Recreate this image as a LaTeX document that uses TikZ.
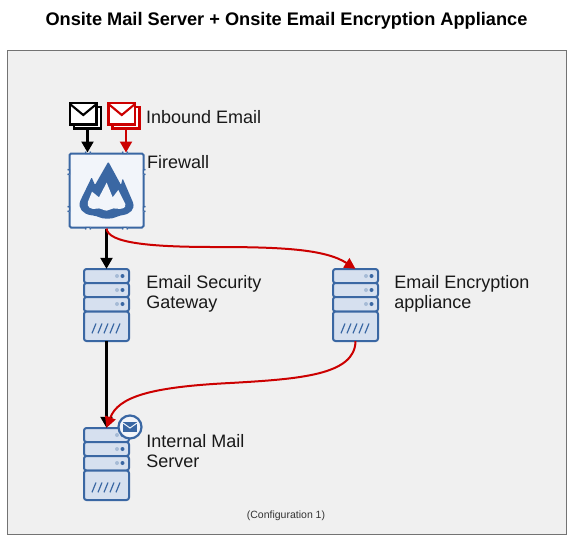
\documentclass[tikz,border=0pt]{standalone}
\usepackage{fontspec}
\setmainfont{Liberation Sans}
\usetikzlibrary{positioning,arrows.meta,calc}
\definecolor{iconblue}{HTML}{3A67A3}
\definecolor{iconfill}{HTML}{D6E0EF}
\definecolor{fwfill}{HTML}{F2F5FA}
\definecolor{framefill}{HTML}{F0F0F0}
\definecolor{mailred}{HTML}{CC0000}
\tikzset{
  frame/.style  ={draw=black!55, fill=framefill, line width=.8pt},
  lbl/.style    ={align=left, inner sep=0pt, font=\fontsize{18}{20}\selectfont, text=black!90},
  srv/.style    ={minimum width=45pt, minimum height=72pt, inner sep=0pt},
  fw/.style     ={draw=iconblue, fill=fwfill, line width=2pt, rounded corners=1.5pt,
                  minimum size=74pt, inner sep=0pt},
  env/.style    ={minimum width=31pt, minimum height=26pt, inner sep=0pt},
  fl/.style     ={-{Triangle[length=11pt,width=12pt]}, line width=2.2pt, black},
  flred/.style  ={fl, mailred},
  curve/.style  ={-{Triangle[length=11pt,width=11pt]}, line width=2pt, mailred},
  pics/serverstack/.style={code={
    \foreach \ytop/\yh in {-36/14,-22/14,-8/14.5,6.5/29.5}
      \draw[draw=iconblue, fill=iconfill, line width=2pt, rounded corners=2.5pt]
        (-22.5,\ytop) rectangle ++(45,\yh);
    \foreach \yrow in {-29,-15,-1}{
      \fill[iconblue!45] (10.5,\yrow) circle (2pt);
      \fill[iconblue] (16,\yrow) circle (2pt);
    }
    \foreach \xs in {-14.5,-8.5,-2.5,3.5,9.5}
      \draw[iconblue, line width=1.2pt] (\xs,28.3) -- ++(4,-9.8);
  }},
  pics/mailicon/.style={code={
    \draw[draw=#1, fill=white, line width=2.1pt] (4,4) rectangle (31,25.5);
    \draw[draw=#1, fill=white, line width=2.1pt] (0,0) rectangle (26.5,21.5);
    \draw[draw=#1, line width=2.1pt] (0,1) -- (13.25,12) -- (26.5,1);
  }}
}

\begin{document}
\begin{tikzpicture}[x=1pt,y=-1pt]
  \useasboundingbox (0,0) rectangle (575,542);
  \node[font=\fontsize{18.2}{20}\selectfont\bfseries] (title) at (286.5,21) {Onsite Mail Server + Onsite Email Encryption Appliance};
  \draw[frame] (7.5,50.5) rectangle (566.5,534);

  % mails
  \node[env] (mailblack) at (85.5,115.5) {};
  \node[env] (mailred) at (124,115.5) {};
  \pic at (70,103) {mailicon=black};
  \pic at (108.5,103) {mailicon=mailred};
  \node[lbl, anchor=west] (inlabel) at (146,117) {Inbound Email};

  % firewall
  \node[fw] (firewall) at (106.5,190.5) {};
  \begin{scope}[shift={(50,90)}, x=.3333pt, y=-.3333pt]
    \fill[iconblue, rounded corners=1pt] (175,215) -- (213,285) -- (218,265) -- (248,335)
      .. controls (256,358) and (240,372) .. (215,376)
      .. controls (200,378) and (195,386) .. (172,386)
      .. controls (150,386) and (145,378) .. (125,376)
      .. controls (100,372) and (82,355) .. (92,330) -- (125,262) -- (135,285) -- cycle;
    \fill[fwfill] (170,278) -- (188,322) -- (205,300) -- (226,342)
      .. controls (230,356) and (212,358) .. (200,356)
      .. controls (185,352) and (180,362) .. (170,362)
      .. controls (160,362) and (150,352) .. (140,356)
      .. controls (125,360) and (108,352) .. (114,335) -- (126,305) -- (147,322) -- cycle;
  \end{scope}
  % notches round the firewall
  \foreach \px in {-21,16}{
    \fill[framefill] ($(firewall.north)+(\px,-1.2)$) rectangle ++(5,2.4);
    \draw[iconblue, line width=1.4pt] ($(firewall.north)+(\px,-1)$) -- ++(.5,2) -- ++(4,0) -- ++(.5,-2);
    \fill[framefill] ($(firewall.south)+(\px,-1.2)$) rectangle ++(5,2.4);
    \draw[iconblue, line width=1.4pt] ($(firewall.south)+(\px,1)$) -- ++(.5,-2) -- ++(4,0) -- ++(.5,2);
    \fill[framefill] ($(firewall.west)+(-1.2,\px)$) rectangle ++(2.4,5);
    \draw[iconblue, line width=1.4pt] ($(firewall.west)+(-1,\px)$) -- ++(2,.5) -- ++(0,4) -- ++(-2,.5);
    \fill[framefill] ($(firewall.east)+(-1.2,\px)$) rectangle ++(2.4,5);
    \draw[iconblue, line width=1.4pt] ($(firewall.east)+(1,\px)$) -- ++(-2,.5) -- ++(0,4) -- ++(2,.5);
  }
  \node[lbl, anchor=west] (fwlabel) at (147,162) {Firewall};

  % servers
  \node[srv] (gateway) at (106.5,305) {};
  \node[srv] (encrypt) at (355.5,305) {};
  \node[srv] (internal) at (106.5,464) {};
  \node[lbl, right=17pt of gateway, yshift=11pt] (gwlabel) {Email Security\\Gateway};
  \node[lbl, right=16pt of encrypt, yshift=11pt] (enclabel) {Email Encryption\\appliance};
  \node[lbl, right=17pt of internal, yshift=13pt] (intlabel) {Internal Mail\\Server};
  \pic at (gateway) {serverstack};
  \pic at (encrypt) {serverstack};
  \pic at (internal) {serverstack};

  \draw[fl] ([xshift=2pt]mailblack.south) -- ([xshift=2pt]mailblack.south |- firewall.north);
  \draw[flred] ([xshift=2pt]mailred.south) -- ([xshift=2pt]mailred.south |- firewall.north);
  \draw[fl] (firewall.south) -- (gateway.north);
  \draw[fl] (gateway.south) -- (internal.north);
  \draw[curve] (firewall.south) .. controls (108,243) and (150,247) .. (215,247)
    .. controls (280,247) and (325,249) .. (encrypt.north);
  \draw[curve] (encrypt.south) .. controls (355,375) and (300,379) .. (230,383)
    .. controls (150,387) and (118,397) .. (internal.north);

  % mail badge
  \node[circle, draw=iconblue, fill=fwfill, line width=2.2pt, minimum size=23pt, inner sep=0pt] (badge) at (130,427) {};
  \fill[iconblue] ($(badge)+(-7,-5)$) rectangle ++(14,10);
  \draw[fwfill, line width=1pt] ($(badge)+(-7,-4)$) -- ($(badge)+(0,1)$) -- ($(badge)+(7,-4)$);

  \node[font=\fontsize{10.5}{12}\selectfont, text=black!80] (config) at (286,516) {(Configuration 1)};
\end{tikzpicture}
\end{document}
